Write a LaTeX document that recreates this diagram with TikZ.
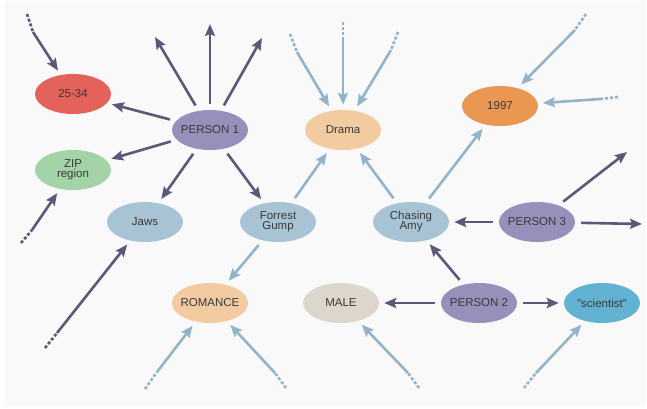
\documentclass[tikz,border=0pt]{standalone}
\usepackage{fontspec}
\setmainfont{Liberation Sans}
\usetikzlibrary{arrows.meta,shapes.geometric}
\definecolor{bgpanel}{HTML}{F9F9FA}
\definecolor{txt}{HTML}{3A3A3A}
\definecolor{cred}{HTML}{E3625A}
\definecolor{cperson}{HTML}{9591BA}
\definecolor{czip}{HTML}{A4D3A7}
\definecolor{cmovie}{HTML}{A8C4D4}
\definecolor{cgenre}{HTML}{F2CBA0}
\definecolor{cyear}{HTML}{E99752}
\definecolor{cmale}{HTML}{DDD6CD}
\definecolor{csci}{HTML}{62B2D2}
\definecolor{darkarr}{HTML}{5B5878}
\definecolor{lightarr}{HTML}{93B4C8}
\tikzset{
  ent/.style={ellipse, minimum width=76pt, minimum height=40pt, inner xsep=-12pt, inner ysep=-4pt,
    text=txt, font=\fontsize{11.5}{12}\selectfont, align=center},
  arr/.style={line width=2.6pt, -{Stealth[length=12pt,width=10pt,inset=2pt]}, shorten <=6pt, shorten >=5pt},
  darrow/.style={arr, draw=darkarr},
  larrow/.style={arr, draw=lightarr},
  freeend/.style={shorten >=0pt},
  freestart/.style={shorten <=0pt},
  dtail/.style={draw=darkarr, line width=2.6pt, dash pattern=on 3pt off 2pt},
  ltail/.style={draw=lightarr, line width=2.6pt, dash pattern=on 3pt off 2pt},
}
\begin{document}
\begin{tikzpicture}[x=1pt,y=-1pt]
\useasboundingbox (0,0) rectangle (647,408);
\fill[white] (0,0) rectangle (647,408);
\fill[bgpanel] (5,1) rectangle (646,406);

% nodes
\node[ent, fill=cred] (age) at (73,94) {25-34};
\node[ent, fill=cperson] (p1) at (210,130) {PERSON 1};
\node[ent, fill=czip] (zip) at (73,170) {ZIP\\[-2pt]region};
\node[ent, fill=cmovie] (jaws) at (145,222) {Jaws};
\node[ent, fill=cmovie] (fg) at (278,222) {Forrest\\[-2pt]Gump};
\node[ent, fill=cgenre] (rom) at (210,303) {ROMANCE};
\node[ent, fill=cgenre] (drama) at (343,130) {Drama};
\node[ent, fill=cyear] (y97) at (500,106) {1997};
\node[ent, fill=cmovie] (ca) at (411,222) {Chasing\\[-2pt]Amy};
\node[ent, fill=cperson] (p3) at (537,222) {PERSON 3};
\node[ent, fill=cmale] (male) at (341,303) {MALE};
\node[ent, fill=cperson] (p2) at (479,303) {PERSON 2};
\node[ent, fill=csci] (sci) at (602,303) {"scientist"};

% free-end coordinates
\coordinate (p1a) at (155,37);
\coordinate (p1b) at (210,24);
\coordinate (p1c) at (262,38);
\coordinate (p3a) at (627,152);
\coordinate (p3b) at (642,224);

\coordinate (t1s) at (27,14);  \coordinate (t1e) at (33,32);
\coordinate (t2s) at (21,243); \coordinate (t2e) at (32,230);
\coordinate (t3s) at (45,348); \coordinate (t3e) at (57,333);
\coordinate (t4s) at (145,389);\coordinate (t4e) at (157,372);
\coordinate (t5s) at (286,388);\coordinate (t5e) at (275,373);
\coordinate (t6s) at (290,34); \coordinate (t6e) at (297,52);
\coordinate (t7s) at (343,22); \coordinate (t7e) at (343,40);
\coordinate (t8s) at (398,32); \coordinate (t8e) at (391,50);
\coordinate (t9s) at (586,14); \coordinate (t9e) at (575,30);
\coordinate (t10s) at (618,97);\coordinate (t10e) at (600,99);
\coordinate (t11s) at (419,388);\coordinate (t11e) at (408,373);
\coordinate (t12s) at (524,388);\coordinate (t12e) at (536,373);

% PERSON 1 arrows
\draw[darrow] (p1) -- (age);
\draw[darrow] (p1) -- (zip);
\draw[darrow] (p1) -- (jaws);
\draw[darrow] (p1) -- (fg);
\draw[darrow, freeend] (p1) -- (p1a);
\draw[darrow, freeend] (p1) -- (p1b);
\draw[darrow, freeend] (p1) -- (p1c);

% PERSON 3 arrows
\draw[darrow] (p3) -- (ca);
\draw[darrow, freeend] (p3) -- (p3a);
\draw[darrow, freeend] (p3) -- (p3b);

% PERSON 2 arrows
\draw[darrow] (p2) -- (ca);
\draw[darrow] (p2) -- (male);
\draw[darrow] (p2) -- (sci);

% movie arrows
\draw[larrow] (fg) -- (rom);
\draw[larrow] (fg) -- (drama);
\draw[larrow] (ca) -- (drama);
\draw[larrow] (ca) -- (y97);

% incoming dark arrows with dashed tails
\draw[dtail] (t1s) -- (t1e); \draw[darrow, freestart] (t1e) -- (age);
\draw[dtail] (t2s) -- (t2e); \draw[darrow, freestart] (t2e) -- (zip);
\draw[dtail] (t3s) -- (t3e); \draw[darrow, freestart] (t3e) -- (jaws);

% incoming light arrows with dashed tails
\draw[ltail] (t4s) -- (t4e); \draw[larrow, freestart] (t4e) -- (rom);
\draw[ltail] (t5s) -- (t5e); \draw[larrow, freestart] (t5e) -- (rom);
\draw[ltail] (t6s) -- (t6e); \draw[larrow, freestart] (t6e) -- (drama);
\draw[ltail] (t7s) -- (t7e); \draw[larrow, freestart] (t7e) -- (drama);
\draw[ltail] (t8s) -- (t8e); \draw[larrow, freestart] (t8e) -- (drama);
\draw[ltail] (t9s) -- (t9e); \draw[larrow, freestart] (t9e) -- (y97);
\draw[ltail] (t10s) -- (t10e); \draw[larrow, freestart] (t10e) -- (y97);
\draw[ltail] (t11s) -- (t11e); \draw[larrow, freestart] (t11e) -- (male);
\draw[ltail] (t12s) -- (t12e); \draw[larrow, freestart] (t12e) -- (sci);
\end{tikzpicture}
\end{document}
